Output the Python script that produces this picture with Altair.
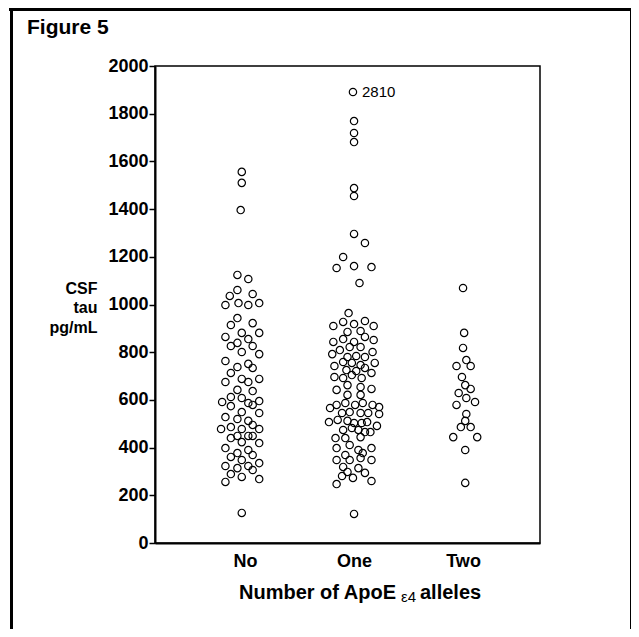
import altair as alt
import pandas as pd

categories = ["No", "One", "Two"]

# CSF tau (pg/mL) per subject, with horizontal jitter (fraction of category spacing)
no_jitter = [-0.03, -0.03, -0.04, -0.07, 0.03, -0.07, -0.14, 0.07, -0.18, -0.06,
             0.03, 0.13, -0.07, -0.13, 0.07, -0.18, -0.03, 0.13, -0.13, -0.07,
             0.03, 0.07, -0.03, 0.13, -0.18, -0.07, 0.03, 0.07, -0.13, -0.03,
             -0.18, 0.03, 0.13, -0.07, 0.07, -0.21, -0.13, -0.03, 0.03, 0.07,
             0.13, -0.13, -0.03, 0.13, -0.18, -0.07, 0.03, 0.07, -0.22, -0.13,
             -0.03, 0.13, -0.13, -0.07, 0.03, 0.07, -0.03, 0.13, -0.18, -0.07,
             0.03, 0.07, -0.13, -0.03, 0.13, -0.18, -0.07, 0.03, 0.07, -0.13,
             -0.03, 0.13, -0.18, -0.03]
no_tau = [1556, 1510, 1396, 1124, 1107, 1061, 1036, 1044, 998, 1006,
          998, 1006, 943, 914, 922, 864, 881, 881, 826, 839,
          855, 826, 801, 792, 763, 738, 751, 734, 713, 688,
          675, 675, 688, 642, 637, 591, 612, 608, 587, 579,
          595, 574, 549, 545, 528, 520, 512, 495, 478, 486,
          478, 478, 440, 449, 449, 449, 423, 419, 398, 377,
          390, 369, 361, 348, 335, 323, 314, 323, 306, 289,
          277, 268, 256, 126]

one_jitter = [-0.01, 0.0, 0.0, 0.0, 0.0, 0.0, 0.0, 0.10, -0.10, -0.16,
              0.0, 0.16, 0.05, -0.05, -0.19, -0.10, 0.0, 0.10, 0.18, -0.06,
              0.06, -0.19, -0.10, 0.0, 0.10, 0.18, -0.20, -0.13, -0.04, 0.06,
              0.17, -0.06, 0.02, 0.10, -0.18, -0.10, -0.02, 0.06, 0.19, -0.07,
              0.02, 0.10, -0.18, -0.10, -0.02, 0.07, 0.16, -0.16, -0.06, 0.06,
              0.16, -0.06, 0.06, -0.22, -0.16, -0.08, 0.01, 0.08, 0.17, 0.23,
              0.23, -0.11, -0.04, 0.06, 0.13, -0.23, -0.15, -0.06, 0.0, 0.07,
              0.12, 0.21, -0.10, -0.02, 0.04, 0.10, 0.15, -0.17, -0.08, 0.06,
              -0.16, -0.04, 0.04, 0.16, -0.08, 0.08, -0.16, -0.04, 0.06, 0.16,
              -0.10, 0.04, -0.06, 0.10, -0.11, -0.01, 0.16, -0.16, 0.0]
one_tau = [1891, 1769, 1719, 1681, 1488, 1455, 1296, 1258, 1199, 1153,
           1161, 1157, 1090, 964, 910, 927, 918, 931, 910, 885,
           889, 843, 855, 843, 864, 851, 792, 809, 822, 822,
           801, 780, 784, 780, 742, 759, 755, 746, 755, 725,
           721, 734, 696, 692, 704, 692, 713, 642, 662, 654,
           646, 621, 621, 566, 579, 587, 579, 587, 579, 570,
           541, 545, 549, 545, 545, 507, 516, 512, 503, 503,
           507, 491, 474, 482, 474, 465, 465, 440, 440, 444,
           398, 411, 390, 398, 369, 377, 348, 348, 356, 348,
           319, 314, 298, 294, 281, 273, 260, 247, 122]

two_jitter = [0.0, 0.01, 0.0, 0.03, -0.06, 0.07, -0.01, 0.02, 0.07, -0.04,
              0.03, 0.11, -0.06, 0.03, 0.02, -0.02, 0.07, -0.09, 0.13, 0.02, 0.02]
two_tau = [1069, 881, 818, 767, 742, 742, 696, 662, 646, 629,
           608, 591, 579, 541, 512, 486, 486, 444, 444, 390, 252]

# value shown off-scale (plotted at the top of the One column)
offscale_label = "2810"
offscale_index = 0

rows = []
for k, (jit, tau) in enumerate([(no_jitter, no_tau), (one_jitter, one_tau), (two_jitter, two_tau)]):
    for j, t in zip(jit, tau):
        rows.append({"group": categories[k], "x": k + 1 + j, "tau": t})
df = pd.DataFrame(rows)

lab_df = pd.DataFrame({"x": [2 + one_jitter[offscale_index]],
                       "tau": [one_tau[offscale_index]],
                       "label": [offscale_label]})

FONT = "Liberation Sans"
label_expr = "[''," + ",".join("'%s'" % c for c in categories) + "][datum.value]"

xscale = alt.Scale(domain=[0.174, 3.706], nice=False, zero=False)
yscale = alt.Scale(domain=[0, 2000], nice=False, zero=True)

points = alt.Chart(df).mark_point(
    shape="circle", filled=False, color="black", size=54, strokeWidth=1.2, opacity=1
).encode(
    x=alt.X("x:Q", scale=xscale,
            axis=alt.Axis(values=[1, 2, 3], labelExpr=label_expr, ticks=False, grid=False,
                          domainColor="black", domainWidth=2, labelFont=FONT,
                          labelFontSize=18, labelFontWeight="bold", labelColor="black",
                          labelPadding=9, title=None)),
    y=alt.Y("tau:Q", scale=yscale,
            axis=alt.Axis(values=list(range(0, 2001, 200)), format="d", grid=False,
                          tickSize=6, tickWidth=1.5, tickColor="black", domainColor="black",
                          domainWidth=2, labelFont=FONT, labelFontSize=18,
                          labelFontWeight="bold", labelColor="black", labelPadding=1,
                          title=["CSF", "tau", "pg/mL"], titleAngle=0, titleFont=FONT,
                          titleFontSize=16, titleFontWeight="bold", titleColor="black",
                          titleAlign="right", titleBaseline="top", titleX=-58,
                          titleY=214, titleLineHeight=19.5)),
)

label = alt.Chart(lab_df).mark_text(
    align="left", baseline="middle", dx=9, font=FONT, fontSize=15, color="black"
).encode(x=alt.X("x:Q", scale=xscale), y=alt.Y("tau:Q", scale=yscale), text="label:N")

one = pd.DataFrame({"a": [0]})
xt1 = alt.Chart(one).mark_text(align="right", baseline="middle", font=FONT, fontSize=20,
                               fontWeight="bold", color="black").encode(
    x=alt.value(241), y=alt.value(527), text=alt.value("Number of ApoE"))
xt2 = alt.Chart(one).mark_text(align="left", baseline="middle", font=FONT, fontSize=15,
                               color="black").encode(
    x=alt.value(246), y=alt.value(531), text=alt.value("ε4"))
xt3 = alt.Chart(one).mark_text(align="left", baseline="middle", font=FONT, fontSize=20,
                               fontWeight="bold", color="black").encode(
    x=alt.value(265), y=alt.value(527), text=alt.value("alleles"))
fig = alt.Chart(one).mark_text(align="left", baseline="middle", font=FONT, fontSize=21,
                               fontWeight="bold", color="black").encode(
    x=alt.value(-128), y=alt.value(-38), text=alt.value("Figure 5"))

top_line = alt.Chart(one).mark_rule(color="black", strokeWidth=3).encode(
    x=alt.value(-146), x2=alt.value(478), y=alt.value(-56.5))
left_line = alt.Chart(one).mark_rule(color="black", strokeWidth=3).encode(
    x=alt.value(-143.5), y=alt.value(-58), y2=alt.value(570))
right_line = alt.Chart(one).mark_rule(color="black", strokeWidth=2).encode(
    x=alt.value(476), y=alt.value(-58), y2=alt.value(570))

chart = alt.layer(points, label, xt1, xt2, xt3, fig, top_line, left_line, right_line).properties(
    width=385, height=477,
    autosize=alt.AutoSizeParams(type="none"),
    padding={"left": 147, "top": 58, "right": 91, "bottom": 86},
    background="white",
).configure_view(stroke="black", strokeWidth=1.5)

chart.save("out.html", embed_options={"renderer": "svg", "actions": False})
